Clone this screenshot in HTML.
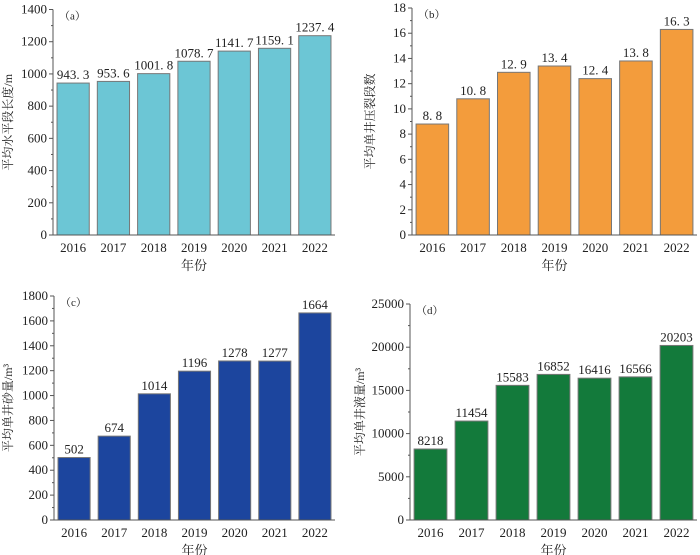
<!DOCTYPE html>
<html><head><meta charset="utf-8"><style>
html,body{margin:0;padding:0;background:#fff;}
svg{display:block;}
text{font-family:"Liberation Serif","Noto Serif CJK SC",serif;fill:#222;}
</style></head><body>
<svg id="c" width="700" height="555" viewBox="0 0 700 555" xmlns="http://www.w3.org/2000/svg"></svg>
<script>
const years = ["2016","2017","2018","2019","2020","2021","2022"];
const valuesA = [943.3, 953.6, 1001.8, 1078.7, 1141.7, 1159.1, 1237.4];
const labelsA = ["943. 3","953. 6","1001. 8","1078. 7","1141. 7","1159. 1","1237. 4"];
const valuesB = [8.8, 10.8, 12.9, 13.4, 12.4, 13.8, 16.3];
const labelsB = ["8. 8","10. 8","12. 9","13. 4","12. 4","13. 8","16. 3"];
const valuesC = [502, 674, 1014, 1196, 1278, 1277, 1664];
const labelsC = ["502","674","1014","1196","1278","1277","1664"];
const valuesD = [8218, 11454, 15583, 16852, 16416, 16566, 20203];
const labelsD = ["8218","11454","15583","16852","16416","16566","20203"];
const ticksA = [0,200,400,600,800,1000,1200,1400];
const ticksB = [0,2,4,6,8,10,12,14,16,18];
const ticksC = [0,200,400,600,800,1000,1200,1400,1600,1800];
const ticksD = [0,5000,10000,15000,20000,25000];

const svg = document.getElementById('c');
const NS = 'http://www.w3.org/2000/svg';
function mk(tag, attrs, parent){
  const e = document.createElementNS(NS, tag);
  for (const k in attrs) e.setAttribute(k, attrs[k]);
  (parent||svg).appendChild(e);
  return e;
}
function panel(id, tag, x0, x1, yTop, yBot, ticks, vals, labs, color, ytitle, titleX){
  const g = mk('g', {});
  
  
  const max = ticks[ticks.length-1];
  const ys = v => yBot - (v/max)*(yBot-yTop);
  const band = (x1-x0)/years.length;
  const xs = i => x0 + band*i + band*0.1;
  const bw = band*0.8;
  vals.forEach((v,i)=>{
    const r = mk('rect', {x:xs(i), y:ys(v), width:bw, height:yBot-ys(v), fill:color, stroke:'#777', 'stroke-width':1}, g);
    
    
    const t = mk('text', {x:xs(i)+bw/2, y:ys(v)-4, 'text-anchor':'middle', 'font-size':13}, g);
    t.textContent = labs[i];
    
    
    const yt = mk('text', {x:xs(i)+bw/2, y:yBot+17, 'text-anchor':'middle', 'font-size':13}, g);
    yt.textContent = years[i];
    
    
  });
  const ax = mk('path', {d:`M${x0},${yTop} L${x0},${yBot} L${x1},${yBot}`, stroke:'#555', 'stroke-width':1, fill:'none'}, g);
  
  
  ticks.forEach((tv,i)=>{
    const y = ys(tv);
    mk('line', {x1:x0-4, y1:y, x2:x0, y2:y, stroke:'#555'}, g);
    if (i < ticks.length-1){
      const ym = ys((tv+ticks[i+1])/2);
      mk('line', {x1:x0-2, y1:ym, x2:x0, y2:ym, stroke:'#555'}, g);
    }
    const t = mk('text', {x:x0-6, y:y+4, 'text-anchor':'end', 'font-size':13}, g);
    t.textContent = String(tv);
    
    
  });
  const pt = mk('text', {x:x0+6, y:yTop+10, 'font-size':11}, g);
  pt.textContent = tag;
  
  
  const xt = mk('text', {x:(x0+x1)/2, y:yBot+35, 'text-anchor':'middle', 'font-size':13}, g);
  xt.textContent = '年份';
  
  
  const cy = (yTop+yBot)/2;
  const yt = mk('text', {x:titleX, y:cy, 'text-anchor':'middle', 'font-size':12, transform:`rotate(-90 ${titleX} ${cy})`}, g);
  yt.textContent = ytitle;
  
  
}
panel('a','（a）',53,335,9.5,235,ticksA,valuesA,labelsA,'#6cc6d5','平均水平段长度/m',12);
panel('b','（b）',412,697,8,235,ticksB,valuesB,labelsB,'#f39c3c','平均单井压裂段数',374);
panel('c','（c）',54,335,296,520,ticksC,valuesC,labelsC,'#1c459e','平均单井砂量/m³',12);
panel('d','（d）',410,697,304,520,ticksD,valuesD,labelsD,'#137a3b','平均单井液量/m³',364);
</script>
</body></html>
